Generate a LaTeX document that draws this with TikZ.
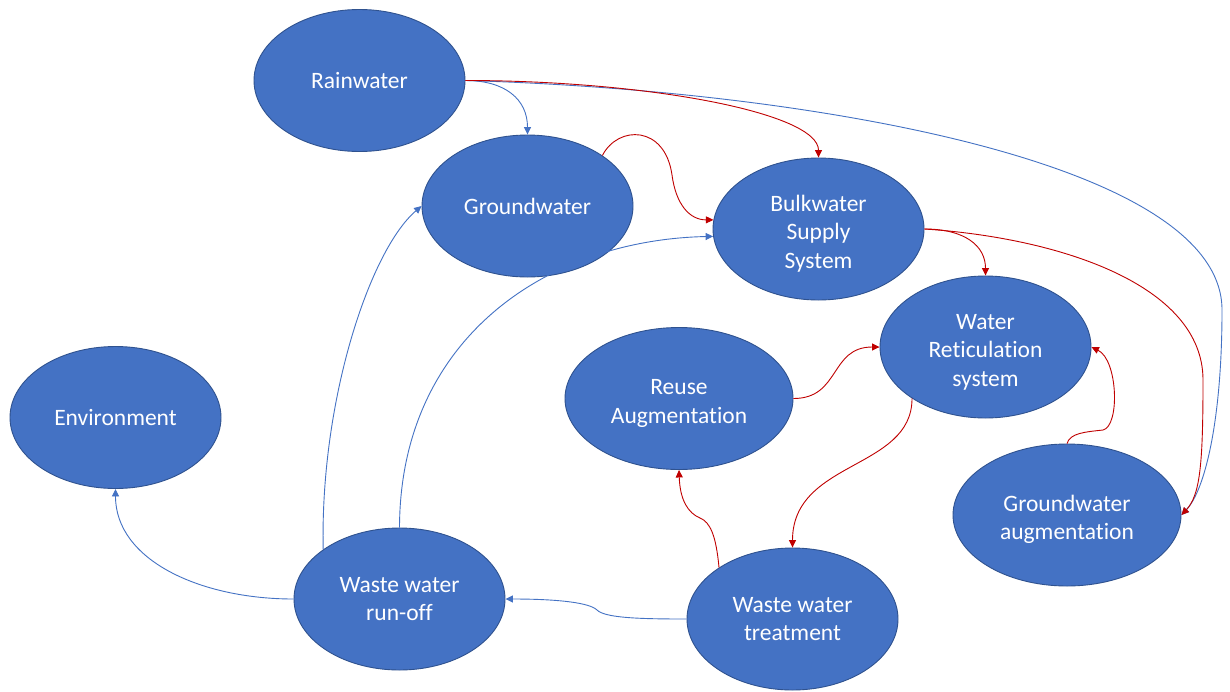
\documentclass[tikz,border=0pt]{standalone}
\usepackage{fontspec}
\setmainfont{Carlito}[RawFeature={-liga,-dlig,-calt,-clig}]
\usetikzlibrary{shapes.geometric,arrows.meta}
\definecolor{nodefill}{HTML}{4472C4}
\definecolor{nodeline}{HTML}{2F528F}
\definecolor{flowblue}{HTML}{4472C4}
\definecolor{flowred}{HTML}{C00000}
% stacked lines, set a little below the middle of the node
\newcommand{\droplines}[1]{\raisebox{0pt}[\height][\dimexpr\depth-10pt\relax]{\begin{tabular}{@{}c@{}}#1\end{tabular}}}
\tikzset{
  place/.style={ellipse, fill=nodefill, draw=nodeline, line width=0.9pt,
    minimum width=211pt, minimum height=142pt, inner sep=0pt, align=center,
    text=white, font=\fontsize{23.5}{28.5}\selectfont},
  wideplace/.style={place, minimum width=228pt},
  bluelink/.style={draw=flowblue, line width=0.9pt, -{Triangle[length=7.5pt,width=7pt]}},
  redlink/.style={draw=flowred, line width=0.9pt, -{Triangle[length=7.5pt,width=7pt]}}
}
\begin{document}
\begin{tikzpicture}[x=1pt,y=-1pt]
\useasboundingbox[fill=white] (0,0) rectangle (1230,691);

% water sources, supply and sinks
\node[place] (rain) at (359.5,80.5) {Rainwater};
\node[place] (ground) at (527.5,206) {Groundwater};
\node[place] (bulk) at (818.5,229) {\droplines{Bulkwater\\Supply\\System}};
\node[place] (retic) at (985.5,347) {\droplines{Water\\Reticulation\\system}};
\node[wideplace] (reuse) at (679,398.5) {\droplines{Reuse\\Augmentation}};
\node[place] (env) at (115.5,417.5) {Environment};
\node[wideplace] (gwaug) at (1067,515) {\droplines{Groundwater\\augmentation}};
\node[place] (runoff) at (399.5,599) {Waste water\\run-off};
\node[place] (treat) at (792.5,619) {Waste water\\treatment};

% natural flows (blue)
\draw[bluelink] (rain.east) .. controls +(40,0) and +(0,-35) .. (ground.north);
\draw[bluelink] (rain.east) .. controls (800,90) and (1222,160) .. (1222,310)
  .. controls (1222,420) and (1205,490) .. (gwaug.east);
\draw[bluelink] (treat.west) .. controls (640,619) and (605,618) .. (597,610)
  .. controls (590,603) and (560,599) .. (runoff.east);
\draw[bluelink] (runoff.west) .. controls (200,599) and (115.5,560) .. (env.south);
\draw[bluelink] (runoff.147) .. controls (320,400) and (370,250) .. (ground.west);
\draw[bluelink] (runoff.north) .. controls (400,340) and (545,240) .. (bulk.184);

% engineered flows (red)
\draw[redlink] (rain.east) .. controls +(180,0) and +(0,-45) .. (bulk.north);
\draw[redlink] (ground.34) .. controls (618,125) and (665,125) .. (672,175)
  .. controls (676,205) and (690,220) .. (bulk.175);
\draw[redlink] (bulk.east) .. controls +(40,0) and +(0,-30) .. (retic.north);
\draw[redlink] (bulk.east) .. controls (1060,238) and (1203,285) .. (1203,380)
  .. controls (1203,465) and (1200,495) .. (gwaug.east);
\draw[redlink] (reuse.east) .. controls +(47,0) and +(-50,0) .. (retic.west);
\draw[redlink] (retic.215) .. controls (912,470) and (792.5,460) .. (treat.north);
\draw[redlink] (gwaug.north) .. controls (1070,433) and (1085,432) .. (1103,430)
  .. controls (1120,426) and (1118,360) .. (retic.east);
\draw[redlink] (treat.145) .. controls (716,535) and (710,522) .. (700,518)
  .. controls (688,513) and (680,500) .. (reuse.south);
\end{tikzpicture}
\end{document}
